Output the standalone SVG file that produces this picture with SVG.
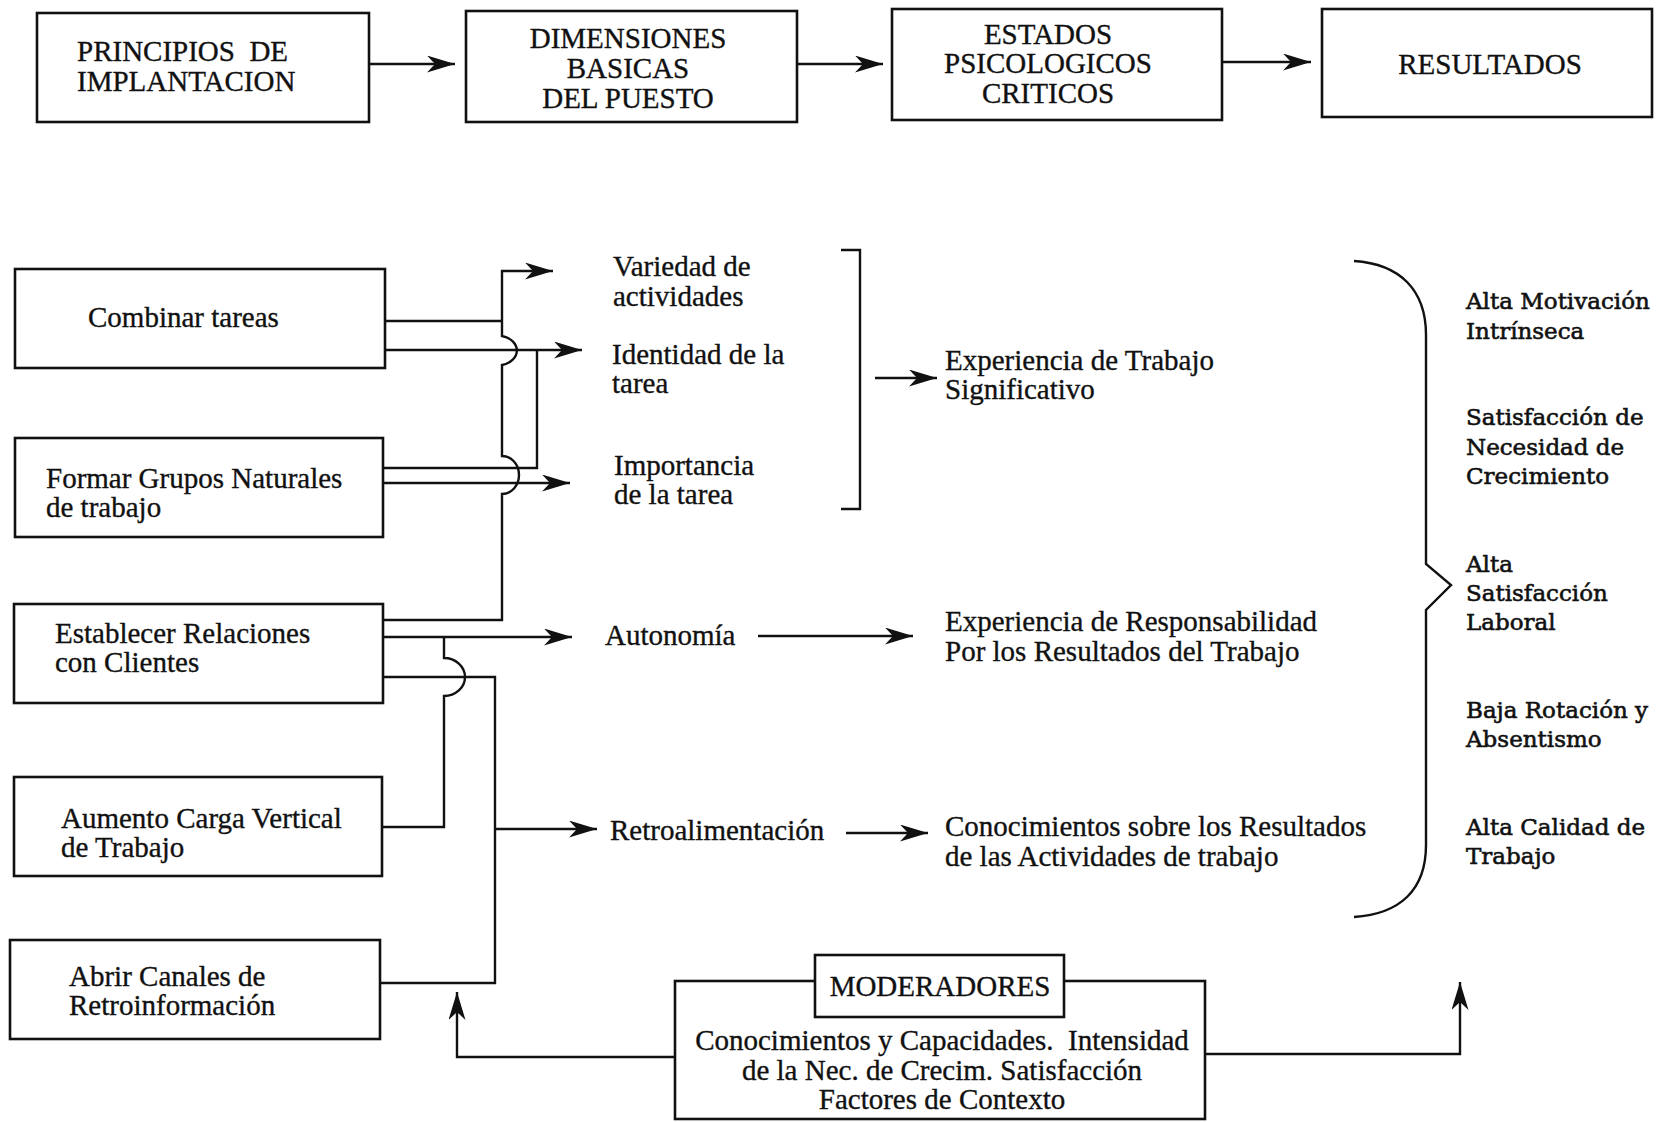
<svg xmlns="http://www.w3.org/2000/svg" width="1669" height="1122" viewBox="0 0 1669 1122">
  <style>
    .box { fill: #fff; stroke: #111; stroke-width: 2.6; }
    .ln { fill: none; stroke: #111; stroke-width: 2.4; }
    .arr { fill: none; stroke: #111; stroke-width: 2.4; marker-end: url(#head); }
    .t { font-family: "Liberation Serif", "Times New Roman", serif; font-size: 29px; fill: #111; stroke: #111; stroke-width: 0.35; white-space: pre; }
    .c { text-anchor: middle; }
    .r { font-family: "DejaVu Serif", "Liberation Serif", serif; font-size: 23px; fill: #111; stroke: #111; stroke-width: 0.6; }
  </style>
  <defs>
    <marker id="head" markerUnits="userSpaceOnUse" markerWidth="29" markerHeight="17" refX="28" refY="8.5" orient="auto">
      <path d="M0,0 L28,8.5 L0,17 L8,8.5 Z" fill="#111"/>
    </marker>
  </defs>

  <!-- header row -->
  <g id="principios">
    <rect class="box" x="37" y="13" width="332" height="109"/>
    <text class="t" x="77" y="61" xml:space="preserve">PRINCIPIOS  DE</text>
    <text class="t" x="77" y="91">IMPLANTACION</text>
  </g>
  <g id="dimensiones">
    <rect class="box" x="466" y="11" width="331" height="111"/>
    <text class="t c" x="628" y="48">DIMENSIONES</text>
    <text class="t c" x="628" y="78">BASICAS</text>
    <text class="t c" x="628" y="108">DEL PUESTO</text>
  </g>
  <g id="estados">
    <rect class="box" x="892" y="9" width="330" height="111"/>
    <text class="t c" x="1048" y="44">ESTADOS</text>
    <text class="t c" x="1048" y="73">PSICOLOGICOS</text>
    <text class="t c" x="1048" y="103">CRITICOS</text>
  </g>
  <g id="resultados">
    <rect class="box" x="1322" y="9" width="330" height="108"/>
    <text class="t c" x="1490" y="74">RESULTADOS</text>
  </g>

  <!-- implementation principles -->
  <g id="combinar">
    <rect class="box" x="15" y="269" width="370" height="99"/>
    <text class="t" x="88" y="327">Combinar tareas</text>
  </g>
  <g id="formar">
    <rect class="box" x="15" y="438" width="368" height="99"/>
    <text class="t" x="46" y="488">Formar Grupos Naturales</text>
    <text class="t" x="46" y="517">de trabajo</text>
  </g>
  <g id="establecer">
    <rect class="box" x="14" y="604" width="369" height="99"/>
    <text class="t" x="55" y="643">Establecer Relaciones</text>
    <text class="t" x="55" y="672">con Clientes</text>
  </g>
  <g id="aumento">
    <rect class="box" x="14" y="777" width="368" height="99"/>
    <text class="t" x="61" y="828">Aumento Carga Vertical</text>
    <text class="t" x="61" y="857">de Trabajo</text>
  </g>
  <g id="abrir">
    <rect class="box" x="10" y="940" width="370" height="99"/>
    <text class="t" x="69" y="986">Abrir Canales de</text>
    <text class="t" x="69" y="1015">Retroinformación</text>
  </g>

  <!-- core job dimensions -->
  <g id="variedad">
    <text class="t" x="613" y="276">Variedad de</text>
    <text class="t" x="613" y="306">actividades</text>
  </g>
  <g id="identidad">
    <text class="t" x="612" y="364">Identidad de la</text>
    <text class="t" x="612" y="393">tarea</text>
  </g>
  <g id="importancia">
    <text class="t" x="614" y="475">Importancia</text>
    <text class="t" x="614" y="504">de la tarea</text>
  </g>
  <g id="autonomia">
    <text class="t" x="605" y="645">Autonomía</text>
  </g>
  <g id="retroalimentacion">
    <text class="t" x="610" y="840">Retroalimentación</text>
  </g>

  <!-- critical psychological states -->
  <g id="significativo">
    <text class="t" x="945" y="370">Experiencia de Trabajo</text>
    <text class="t" x="945" y="399">Significativo</text>
  </g>
  <g id="responsabilidad">
    <text class="t" x="945" y="631">Experiencia de Responsabilidad</text>
    <text class="t" x="945" y="661">Por los Resultados del Trabajo</text>
  </g>
  <g id="conocimiento">
    <text class="t" x="945" y="836">Conocimientos sobre los Resultados</text>
    <text class="t" x="945" y="866">de las Actividades de trabajo</text>
  </g>

  <!-- outcomes -->
  <g id="resultados-lista">
    <text class="r" x="1466" y="309">Alta Motivación</text>
    <text class="r" x="1466" y="339">Intrínseca</text>
    <text class="r" x="1466" y="425">Satisfacción de</text>
    <text class="r" x="1466" y="455">Necesidad de</text>
    <text class="r" x="1466" y="484">Crecimiento</text>
    <text class="r" x="1466" y="572">Alta</text>
    <text class="r" x="1466" y="601">Satisfacción</text>
    <text class="r" x="1466" y="630">Laboral</text>
    <text class="r" x="1466" y="718">Baja Rotación y</text>
    <text class="r" x="1466" y="747">Absentismo</text>
    <text class="r" x="1466" y="835">Alta Calidad de</text>
    <text class="r" x="1466" y="864">Trabajo</text>
  </g>

  <!-- moderators -->
  <g id="moderadores">
    <rect class="box" x="675" y="981" width="530" height="138"/>
    <rect class="box" x="815" y="955" width="249" height="62"/>
    <text class="t c" x="940" y="996">MODERADORES</text>
    <text class="t c" x="942" y="1050" xml:space="preserve">Conocimientos y Capacidades.  Intensidad</text>
    <text class="t c" x="942" y="1080">de la Nec. de Crecim. Satisfacción</text>
    <text class="t c" x="942" y="1109">Factores de Contexto</text>
  </g>

  <!-- connectors -->
  <g id="connectors">
    <path class="arr" d="M369,64 H455"/>
    <path class="arr" d="M797,64 H883"/>
    <path class="arr" d="M1222,62 H1311"/>

    <!-- Combinar / Establecer to Variedad, hopping over crossing lines -->
    <path class="ln" d="M385,321 H502"/>
    <path class="arr" d="M383,620 H502 V494 A17,19 0 0 0 502,456 V365 A20,15 0 0 0 502,336 V271 H553"/>
    <!-- Combinar / Formar to Identidad -->
    <path class="arr" d="M385,350 H582"/>
    <path class="ln" d="M383,468 H537 V350"/>
    <!-- Formar to Importancia -->
    <path class="arr" d="M383,483 H570"/>

    <!-- Establecer / Aumento to Autonomia -->
    <path class="arr" d="M383,637 H572"/>
    <path class="ln" d="M382,827 H444 V696 A21,19 0 0 0 444,658 V637"/>
    <!-- Establecer / Abrir to Retroalimentacion -->
    <path class="ln" d="M383,677 H495 V983 H380"/>
    <path class="arr" d="M495,829 H597"/>

    <!-- dimensions to states -->
    <path class="ln" d="M841,250 H860 V509 H841"/>
    <path class="arr" d="M875,378 H937"/>
    <path class="arr" d="M758,636 H913"/>
    <path class="arr" d="M846,833 H928"/>

    <!-- brace grouping the outcomes -->
    <path class="ln" d="M1354,261 C1400,264 1426,290 1426,335 V564 L1451,585 L1426,610 V845 C1426,890 1400,914 1354,917"/>

    <!-- moderator feedback -->
    <path class="arr" d="M675,1057 H457 V992"/>
    <path class="arr" d="M1205,1054 H1460 V982"/>
  </g>
</svg>
